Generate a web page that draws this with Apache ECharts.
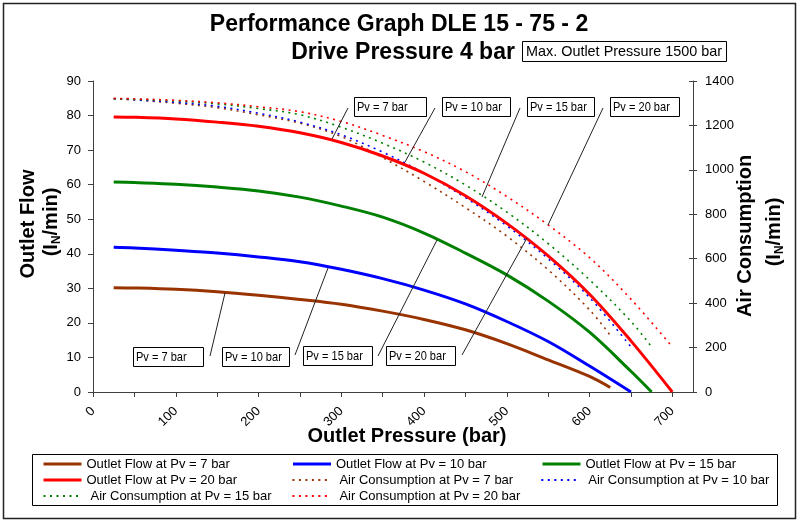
<!DOCTYPE html>
<html><head><meta charset="utf-8">
<script src="https://cdn.jsdelivr.net/npm/echarts@6/dist/echarts.min.js"></script>
<style>html,body{margin:0;padding:0;background:#fff}#c{width:800px;height:525px}</style>
</head><body><div id="c"></div>
<script>
// ---- data ----
const pressure7  = [25,50,100,150,200,250,300,350,400,450,500,550,600,625];
const pressure10 = [25,50,100,150,200,250,300,350,400,450,500,550,600,650];
const pressure15 = [25,50,100,150,200,250,300,350,400,450,500,550,600,650,675];
const pressure20 = [25,50,100,150,200,250,300,350,400,450,500,550,600,650,700];

const flow7  = [30.2,30.1,29.7,29.0,28.0,26.8,25.4,23.4,21.0,18.0,14.0,9.3,4.5,1.3];
const flow10 = [41.9,41.7,41.0,40.2,39.1,37.7,35.5,32.8,29.5,25.5,20.4,14.6,7.5,0];
const flow15 = [60.8,60.6,60.1,59.3,58.2,56.4,53.8,50.6,46.0,40.2,33.9,26.3,17.3,6.0,0];
const flow20 = [79.6,79.5,79.0,78.1,76.9,75.0,72.2,68.3,63.3,56.8,48.8,39.4,28.3,14.8,0];

const air7  = [1320,1315,1300,1280,1248,1210,1150,1055,948,830,702,550,370,255];
const air10 = [1320,1316,1304,1286,1255,1215,1158,1080,985,875,748,600,425,203];
const air15 = [1320,1318,1310,1297,1276,1248,1192,1120,1035,932,810,668,505,318,203];
const air20 = [1322,1320,1313,1302,1284,1262,1218,1155,1082,992,880,752,605,418,203];

const xTicks = {min: 0, max: 725, step: 50};
const flowTicks = {min: 0, max: 90, step: 10};
const airTicks = {min: 0, max: 1400, step: 200};

const seriesNames = [
  'Outlet Flow at Pv = 7 bar', 'Outlet Flow at Pv = 10 bar', 'Outlet Flow at Pv = 15 bar',
  'Outlet Flow at Pv = 20 bar', 'Air Consumption at Pv = 7 bar', 'Air Consumption at Pv = 10 bar',
  'Air Consumption at Pv = 15 bar', 'Air Consumption at Pv = 20 bar'
];
const annotLabels = ['Pv = 7 bar', 'Pv = 10 bar', 'Pv = 15 bar', 'Pv = 20 bar'];

// ---- styles ----
const FONT = 'Arial, "Liberation Sans", sans-serif';
const colors = ['#993300', '#0000FF', '#008000', '#FF0000'];
const AX = '#404040';

function pairs(xs, ys) { return xs.map((x, i) => [x, ys[i]]); }

const flowSets = [[pressure7, flow7], [pressure10, flow10], [pressure15, flow15], [pressure20, flow20]];
const airSets = [[pressure7, air7], [pressure10, air10], [pressure15, air15], [pressure20, air20]];

const series = [];
flowSets.forEach((s, i) => series.push({
  name: seriesNames[i], type: 'line', yAxisIndex: 0, data: pairs(s[0], s[1]),
  smooth: 0.35, symbol: 'none',
  lineStyle: {color: colors[i], width: 3}, itemStyle: {color: colors[i]}, z: 3
}));
airSets.forEach((s, i) => series.push({
  name: seriesNames[i + 4], type: 'line', yAxisIndex: 1, data: pairs(s[0], s[1]),
  smooth: 0.35, symbol: 'none',
  lineStyle: {color: colors[i], width: 1.6, type: [2, 4.5]}, itemStyle: {color: colors[i]}, z: 2
}));

// ---- decorations (layout) ----
const graphics = [];
graphics.push({type: 'rect', shape: {x: 3.5, y: 3.5, width: 792, height: 515}, style: {fill: 'none', stroke: '#222', lineWidth: 1.5}, z: 0});
graphics.push({type: 'text', x: 399, y: 25, style: {text: 'Performance Graph DLE 15 - 75 - 2', font: 'bold 23px ' + FONT, fill: '#000', align: 'center', verticalAlign: 'middle'}});
graphics.push({type: 'text', x: 403, y: 53, style: {text: 'Drive Pressure 4 bar', font: 'bold 23px ' + FONT, fill: '#000', align: 'center', verticalAlign: 'middle'}});
graphics.push({type: 'rect', shape: {x: 522.5, y: 41.5, width: 204, height: 20}, style: {fill: '#fff', stroke: '#000', lineWidth: 1}});
graphics.push({type: 'text', x: 526, y: 52, scaleX: 0.96, style: {text: 'Max. Outlet Pressure 1500 bar', font: '15px ' + FONT, fill: '#000', align: 'left', verticalAlign: 'middle'}});

const rich = {n: {fontSize: 20, fontWeight: 'bold', fontFamily: FONT, lineHeight: 24, verticalAlign: 'middle'},
              s: {fontSize: 12, fontWeight: 'bold', fontFamily: FONT, lineHeight: 12, verticalAlign: 'bottom'}};
graphics.push({type: 'text', x: 28, y: 224, rotation: Math.PI / 2, style: {text: 'Outlet Flow', font: 'bold 20px ' + FONT, fill: '#000', align: 'center', verticalAlign: 'middle'}});
graphics.push({type: 'text', x: 51, y: 222, rotation: Math.PI / 2, style: {text: '{n|(I}{s|N}{n|/min)}', rich: rich, fill: '#000', align: 'center', verticalAlign: 'middle'}});
graphics.push({type: 'text', x: 745, y: 236, rotation: Math.PI / 2, style: {text: 'Air Consumption', font: 'bold 20px ' + FONT, fill: '#000', align: 'center', verticalAlign: 'middle'}});
graphics.push({type: 'text', x: 774, y: 232, rotation: Math.PI / 2, style: {text: '{n|(I}{s|N}{n|/min)}', rich: rich, fill: '#000', align: 'center', verticalAlign: 'middle'}});
graphics.push({type: 'text', x: 407, y: 436, style: {text: 'Outlet Pressure (bar)', font: 'bold 20px ' + FONT, fill: '#000', align: 'center', verticalAlign: 'middle'}});

// legend frame
graphics.push({type: 'rect', shape: {x: 32.5, y: 454.5, width: 745, height: 51}, style: {fill: 'none', stroke: '#000', lineWidth: 1}});

// annotation boxes and leader lines
const topBoxes = [[354, 97, 72], [442, 97, 68], [527, 97, 67], [610, 97, 69]];
const topLines = [[348, 108, 332, 139], [435, 108, 405, 162], [520, 108, 482, 197], [603, 108, 548, 225]];
const botBoxes = [[133, 347, 70], [222, 347, 67], [303, 346, 69], [386, 346, 69]];
const botLines = [[210, 356, 225, 293], [295, 355, 328, 268], [378, 356, 437, 240], [462, 355, 527, 238]];
function addBox(b, label) {
  graphics.push({type: 'rect', shape: {x: b[0] + 0.5, y: b[1] + 0.5, width: b[2], height: 19}, style: {fill: '#fff', stroke: '#000', lineWidth: 1}, z: 10});
  graphics.push({type: 'text', x: b[0] + 3, y: b[1] + 10, scaleX: 0.85, style: {text: label, font: '13px ' + FONT, fill: '#000', align: 'left', verticalAlign: 'middle'}, z: 11});
}
function addLine(l) {
  graphics.push({type: 'line', shape: {x1: l[0], y1: l[1], x2: l[2], y2: l[3]}, style: {stroke: '#222', lineWidth: 1}, z: 10});
}
topBoxes.forEach((b, i) => addBox(b, annotLabels[i]));
botBoxes.forEach((b, i) => addBox(b, annotLabels[i]));
topLines.forEach(addLine);
botLines.forEach(addLine);

const chart = echarts.init(document.getElementById('c'), null, {renderer: 'canvas'});
chart.setOption({
  animation: false,
  backgroundColor: '#fff',
  grid: {left: 93, top: 81, width: 600, height: 311, containLabel: false},
  xAxis: {
    type: 'value', min: xTicks.min, max: xTicks.max, interval: xTicks.step,
    axisLine: {show: true, onZero: false, lineStyle: {color: AX, width: 1}},
    axisTick: {show: true, length: 5, lineStyle: {color: AX}},
    splitLine: {show: false},
    axisLabel: {rotate: 45, margin: 17, fontSize: 13, fontFamily: FONT, color: '#000', showMaxLabel: false,
      formatter: v => (v % 100 === 0 ? String(v) : '')}
  },
  yAxis: [
    {type: 'value', position: 'left', min: flowTicks.min, max: flowTicks.max, interval: flowTicks.step,
      axisLine: {show: true, lineStyle: {color: AX}}, axisTick: {show: true, length: 5, lineStyle: {color: AX}},
      splitLine: {show: false}, axisLabel: {margin: 12, fontSize: 13, fontFamily: FONT, color: '#000'}},
    {type: 'value', position: 'right', min: airTicks.min, max: airTicks.max, interval: airTicks.step,
      axisLine: {show: true, lineStyle: {color: AX}}, axisTick: {show: true, length: 4, lineStyle: {color: AX}},
      splitLine: {show: false}, axisLabel: {margin: 12, fontSize: 13, fontFamily: FONT, color: '#000', formatter: v => String(v)}},
    {type: 'value', position: 'right', min: airTicks.min, max: airTicks.max, interval: airTicks.step,
      axisLine: {show: false}, axisTick: {show: true, inside: true, length: 4, lineStyle: {color: AX}},
      splitLine: {show: false}, axisLabel: {show: false}}
  ],
  legend: {
    left: 42, top: 456, width: 750, orient: 'horizontal', itemWidth: 38, itemHeight: 14, itemGap: 0, padding: 0,
    itemStyle: {color: 'rgba(0,0,0,0)', borderWidth: 0, borderColor: 'rgba(0,0,0,0)'},
    textStyle: {fontSize: 13, fontFamily: FONT, color: '#000', width: 205, lineHeight: 16},
    data: seriesNames.map((n, i) => i >= 4
      ? {name: n, textStyle: {padding: [0, 0, 0, 4], width: 201}, lineStyle: {width: 1.8}}
      : {name: n, lineStyle: {width: 3}}),
    selectedMode: false
  },
  series: series,
  graphic: graphics
});
</script>
</body></html>
